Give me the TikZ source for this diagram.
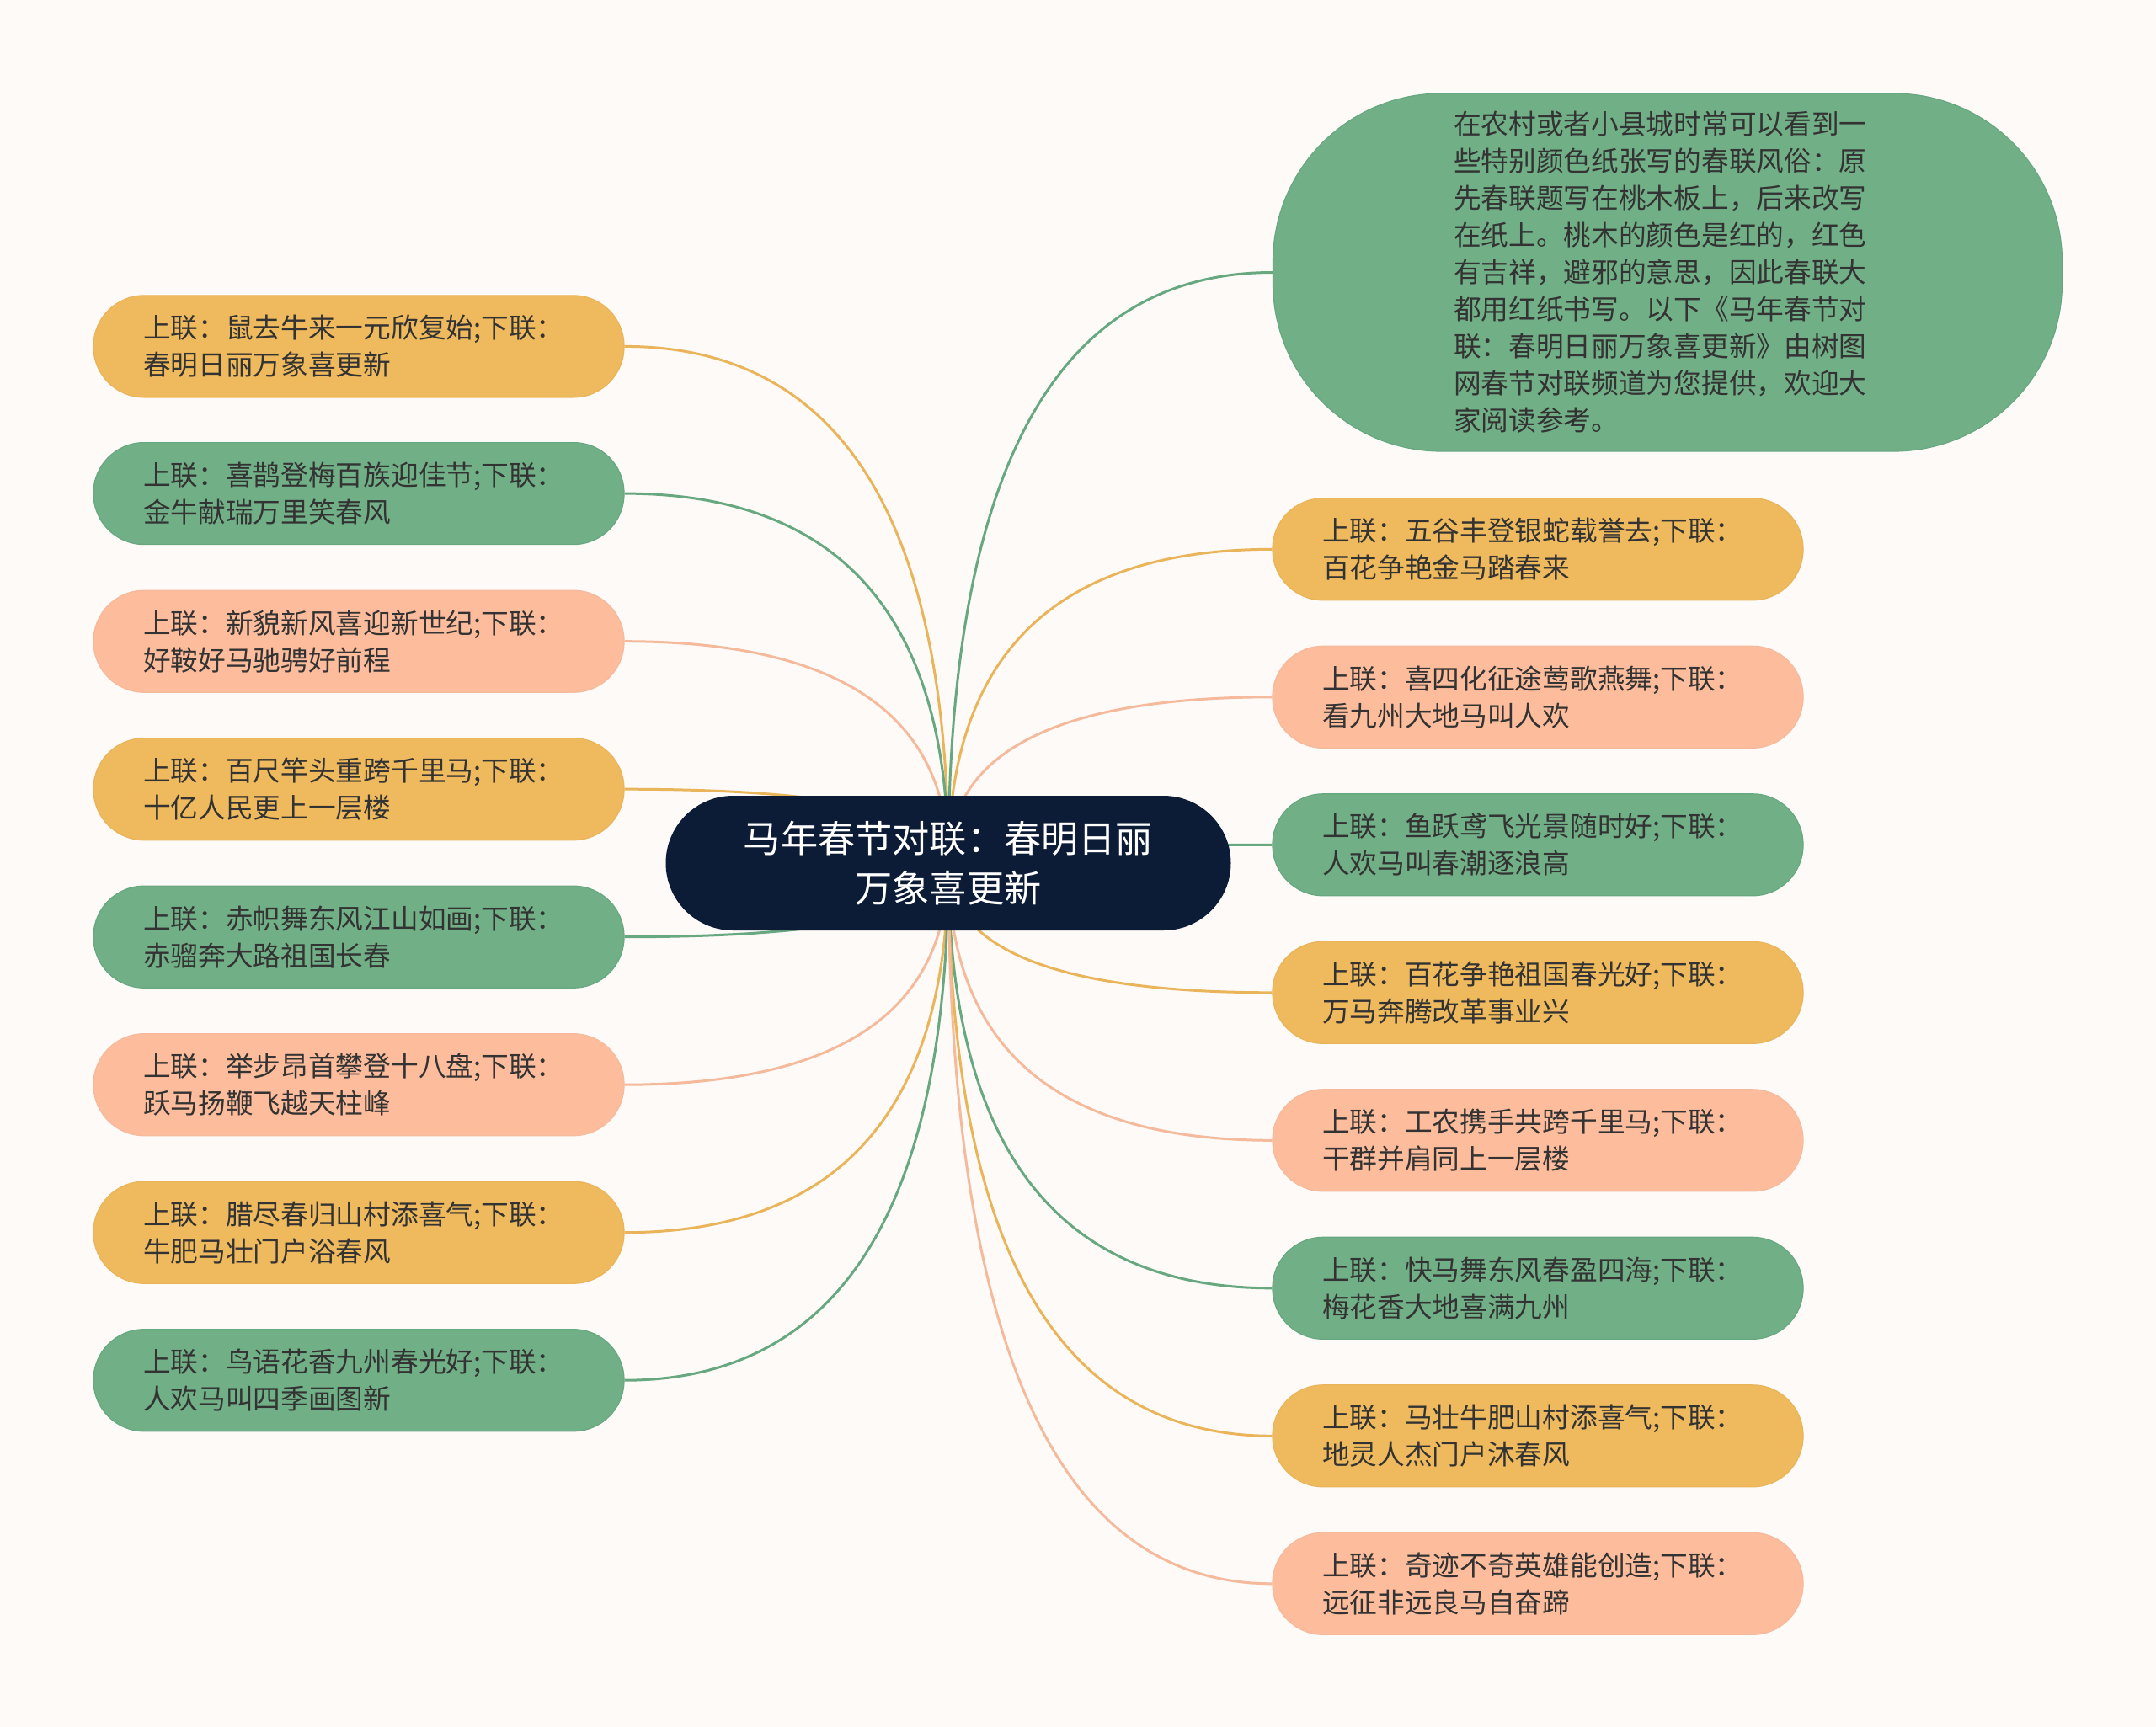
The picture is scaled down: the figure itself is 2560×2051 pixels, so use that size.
\documentclass[tikz,border=0pt]{standalone}
\usepackage{fontspec}
\newfontfamily\cjk{Noto Sans CJK SC}
\usetikzlibrary{calc}
\definecolor{bgc}{HTML}{FDFAF8}
\definecolor{cyel}{HTML}{EFBA5E}
\definecolor{cgrn}{HTML}{71AF86}
\definecolor{csal}{HTML}{FDBD9C}
\definecolor{lyel}{HTML}{EAB55A}
\definecolor{lgrn}{HTML}{68A880}
\definecolor{lsal}{HTML}{F5BA9C}
\definecolor{navy}{HTML}{0C1C36}
\definecolor{txt}{HTML}{333333}
\pgfdeclarelayer{bglayer}
\pgfdeclarelayer{linklayer}
\pgfsetlayers{bglayer,linklayer,main}
\newcommand\leaffont{\cjk\fontsize{16.35pt}{22pt}\selectfont}
\newcommand\rootfont{\cjk\fontsize{22.1pt}{29.5pt}\selectfont}
\newcommand\mmlink[2]{\draw[#1] (#2) .. controls ($(#2)!0.6667!(m.center |- #2)$) and ($(m.center)!0.6667!(m.center |- #2)$) .. (m.center);}
\begin{document}
\begin{tikzpicture}[x=0.5pt,y=-0.5pt,
  leaf/.style={rounded corners=30pt, minimum height=60.5pt, text width=256pt,
    inner xsep=29.5pt, inner ysep=0pt, align=left, font=\leaffont, text=txt, line width=0.6pt},
  yel/.style={leaf, fill=cyel, draw=lyel},
  grn/.style={leaf, fill=cgrn, draw=lgrn},
  sal/.style={leaf, fill=csal, draw=lsal},
  lk/.style={line width=1.5pt},
  lkyel/.style={lk, draw=lyel},
  lkgrn/.style={lk, draw=lgrn},
  lksal/.style={lk, draw=lsal}]
\useasboundingbox (0,0) rectangle (2560,2051);
\begin{pgfonlayer}{bglayer}
\fill[bgc] (0,0) rectangle (2560,2051);
\end{pgfonlayer}

\node[fill=navy, rounded corners=40pt, minimum width=335.5pt, minimum height=80pt,
  inner sep=0pt, align=center, font=\rootfont, text=white] (m) at (1126,1025)
  {马年春节对联：春明日丽\\万象喜更新};

% left
\node[yel] (l1) at (426,411.4) {上联：鼠去牛来一元欣复始;下联：\\春明日丽万象喜更新};
\node[grn] (l2) at (426,586.1) {上联：喜鹊登梅百族迎佳节;下联：\\金牛献瑞万里笑春风};
\node[sal] (l3) at (426,761.7) {上联：新貌新风喜迎新世纪;下联：\\好鞍好马驰骋好前程};
\node[yel] (l4) at (426,937.2) {上联：百尺竿头重跨千里马;下联：\\十亿人民更上一层楼};
\node[grn] (l5) at (426,1112.7) {上联：赤帜舞东风江山如画;下联：\\赤骝奔大路祖国长春};
\node[sal] (l6) at (426,1288.2) {上联：举步昂首攀登十八盘;下联：\\跃马扬鞭飞越天柱峰};
\node[yel] (l7) at (426,1463.7) {上联：腊尽春归山村添喜气;下联：\\牛肥马壮门户浴春风};
\node[grn] (l8) at (426,1639.2) {上联：鸟语花香九州春光好;下联：\\人欢马叫四季画图新};

% right
\node[fill=cgrn, draw=lgrn, line width=0.6pt, rounded corners=100pt, minimum width=468.5pt,
  minimum height=212.5pt, text width=254pt, inner sep=0pt, align=left, font=\leaffont, text=txt]
  (big) at (1980,323.5)
  {在农村或者小县城时常可以看到一\\些特别颜色纸张写的春联风俗：原\\先春联题写在桃木板上，后来改写\\在纸上。桃木的颜色是红的，红色\\有吉祥，避邪的意思，因此春联大\\都用红纸书写。以下《马年春节对\\联：春明日丽万象喜更新》由树图\\网春节对联频道为您提供，欢迎大\\家阅读参考。};
\node[yel] (r1) at (1826,652.3) {上联：五谷丰登银蛇载誉去;下联：\\百花争艳金马踏春来};
\node[sal] (r2) at (1826,827.8) {上联：喜四化征途莺歌燕舞;下联：\\看九州大地马叫人欢};
\node[grn] (r3) at (1826,1003.3) {上联：鱼跃鸢飞光景随时好;下联：\\人欢马叫春潮逐浪高};
\node[yel] (r4) at (1826,1178.8) {上联：百花争艳祖国春光好;下联：\\万马奔腾改革事业兴};
\node[sal] (r5) at (1826,1354.3) {上联：工农携手共跨千里马;下联：\\干群并肩同上一层楼};
\node[grn] (r6) at (1826,1529.8) {上联：快马舞东风春盈四海;下联：\\梅花香大地喜满九州};
\node[yel] (r7) at (1826,1705.3) {上联：马壮牛肥山村添喜气;下联：\\地灵人杰门户沐春风};
\node[sal] (r8) at (1826,1880.8) {上联：奇迹不奇英雄能创造;下联：\\远征非远良马自奋蹄};

\begin{pgfonlayer}{linklayer}
\mmlink{lkyel}{l1.east}
\mmlink{lkgrn}{l2.east}
\mmlink{lksal}{l3.east}
\mmlink{lkyel}{l4.east}
\mmlink{lkgrn}{l5.east}
\mmlink{lksal}{l6.east}
\mmlink{lkyel}{l7.east}
\mmlink{lkgrn}{l8.east}
\mmlink{lkgrn}{big.west}
\mmlink{lkyel}{r1.west}
\mmlink{lksal}{r2.west}
\mmlink{lkgrn}{r3.west}
\mmlink{lkyel}{r4.west}
\mmlink{lksal}{r5.west}
\mmlink{lkgrn}{r6.west}
\mmlink{lkyel}{r7.west}
\mmlink{lksal}{r8.west}
\end{pgfonlayer}
\end{tikzpicture}
\end{document}
